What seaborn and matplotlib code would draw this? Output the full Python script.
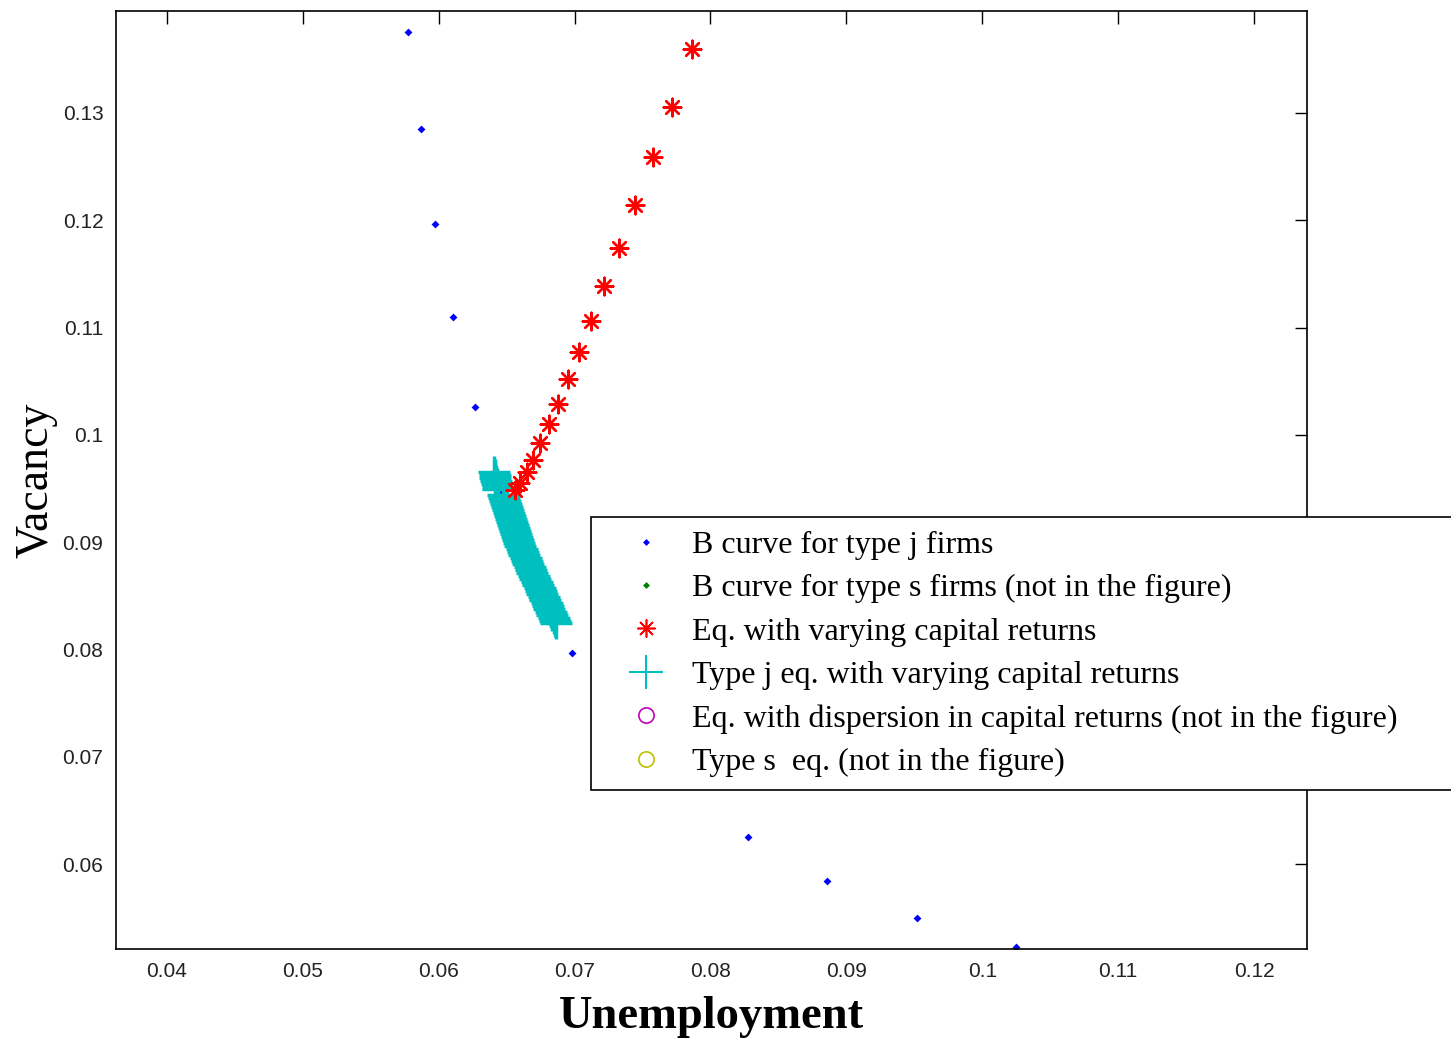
import numpy as np
import pandas as pd
import matplotlib.pyplot as plt
from matplotlib.lines import Line2D
import seaborn as sns

# B curve for type j firms (unemployment, vacancy)
b_u = [0.05773, 0.05869, 0.05972, 0.06105, 0.06266, 0.0645, 0.0669,
       0.0698, 0.0738, 0.0775, 0.08275, 0.08857, 0.09519, 0.10247]
b_v = [0.13755, 0.12851, 0.11966, 0.11099, 0.10260, 0.0947, 0.0870,
       0.07967, 0.0735, 0.0688, 0.06253, 0.05842, 0.05498, 0.05227]

# equilibria with varying capital returns
eq_u = [0.07861, 0.07714, 0.07574, 0.07446, 0.07324, 0.07216, 0.07122, 0.07032,
        0.06953, 0.06879, 0.06811, 0.06745, 0.06693, 0.06649, 0.06598, 0.06561]
eq_v = [0.13596, 0.13059, 0.12587, 0.12143, 0.11745, 0.11391, 0.11065, 0.10770,
        0.10521, 0.10291, 0.10099, 0.09925, 0.09767, 0.09654, 0.09552, 0.09487]

# type j equilibria with varying capital returns (dense band)
tj_u = [0.06406, 0.06412, 0.06417, 0.06423, 0.06428, 0.06434, 0.06438,
        0.06472, 0.06480, 0.06487, 0.06494, 0.06501, 0.06508, 0.06515, 0.06522,
        0.06529, 0.06537, 0.06545, 0.06553, 0.06560, 0.06568, 0.06576, 0.06584,
        0.06592, 0.06601, 0.06611, 0.06620, 0.06630, 0.06640, 0.06649, 0.06659,
        0.06669, 0.06678, 0.06689, 0.06700, 0.06710, 0.06721, 0.06731, 0.06742,
        0.06753, 0.06763, 0.06774, 0.06784, 0.06794, 0.06804, 0.06815, 0.06825,
        0.06835, 0.06846, 0.06856, 0.06862]
tj_v = [0.09654, 0.09626, 0.09598, 0.09570, 0.09542, 0.09514, 0.09496,
        0.09440, 0.09412, 0.09384, 0.09356, 0.09328, 0.09300, 0.09272, 0.09244,
        0.09216, 0.09188, 0.09160, 0.09132, 0.09104, 0.09076, 0.09049, 0.09021,
        0.08993, 0.08965, 0.08937, 0.08909, 0.08881, 0.08853, 0.08825, 0.08797,
        0.08769, 0.08741, 0.08713, 0.08685, 0.08657, 0.08629, 0.08601, 0.08573,
        0.08545, 0.08517, 0.08489, 0.08461, 0.08433, 0.08405, 0.08377, 0.08350,
        0.08322, 0.08294, 0.08266, 0.08247]

labels = ["B curve for type j firms",
          "B curve for type s firms (not in the figure)",
          "Eq. with varying capital returns",
          "Type j eq. with varying capital returns",
          "Eq. with dispersion in capital returns (not in the figure)",
          "Type s  eq. (not in the figure)"]

x_ticks = [0.04, 0.05, 0.06, 0.07, 0.08, 0.09, 0.1, 0.11, 0.12]
y_ticks = [0.06, 0.07, 0.08, 0.09, 0.1, 0.11, 0.12, 0.13]

cyan = (0, 0.75, 0.75)
star = (8, 2, 0)

sns.set_style("white")
plt.rcParams['font.family'] = ['Liberation Sans', 'DejaVu Sans']
plt.rcParams['text.color'] = 'black'
plt.rcParams['axes.labelcolor'] = 'black'

fig = plt.figure(figsize=(14.51, 10.39), dpi=100)
ax = fig.add_axes([0.0799, 0.0866, 0.8209, 0.9028])

bj = pd.DataFrame({"u": b_u, "v": b_v})
eq = pd.DataFrame({"u": eq_u, "v": eq_v})
tj = pd.DataFrame({"u": tj_u, "v": tj_v})

sns.scatterplot(data=bj, x="u", y="v", ax=ax, color="blue", marker="D", s=16,
                linewidth=0, zorder=2)
sns.scatterplot(data=tj, x="u", y="v", ax=ax, color=cyan, marker="+", s=560,
                linewidth=2.5, zorder=3)
sns.scatterplot(data=eq, x="u", y="v", ax=ax, color="red", marker=star, s=160,
                linewidth=1.7, edgecolor="red", zorder=4)

ax.set_xlim(0.03625, 0.1239)
ax.set_ylim(0.0521, 0.1395)
ax.set_xticks(x_ticks)
ax.set_xticklabels([f"{t:g}" for t in x_ticks])
ax.set_yticks(y_ticks)
ax.set_yticklabels([f"{t:g}" for t in y_ticks])
ax.tick_params(direction="in", length=9, width=1, labelsize=15, pad=9,
               top=True, right=True, colors="black", labelcolor="#222222")
for s in ax.spines.values():
    s.set_color("black")
    s.set_linewidth(1.2)

ax.set_xlabel("Unemployment", family="Liberation Serif", fontsize=33.5,
              fontweight="bold", labelpad=11, color="black")
ax.set_ylabel("Vacancy", family="Liberation Serif", fontsize=33, labelpad=4,
              color="black")

handles = [
    Line2D([], [], ls="none", marker="D", ms=3.5, color="blue", mew=0),
    Line2D([], [], ls="none", marker="D", ms=3.5, color=(0, 0.5, 0), mew=0),
    Line2D([], [], ls="none", marker=star, ms=13, color="red", mew=1.2),
    Line2D([], [], ls="none", marker="+", ms=24, color=cyan, mew=1.5),
    Line2D([], [], ls="none", marker="o", ms=11, mfc="none", mec=(0.75, 0, 0.75), mew=1.2),
    Line2D([], [], ls="none", marker="o", ms=11, mfc="none", mec=(0.75, 0.75, 0), mew=1.2),
]
leg = fig.legend(handles, labels, loc="upper left",
                 bbox_to_anchor=(591 / 1451, 1 - 787 / 1039, 900 / 1451, 270 / 1039),
                 mode="expand", prop={"family": "Liberation Serif", "size": 23},
                 frameon=True, fancybox=False, shadow=False, borderpad=0.42,
                 handlelength=2.6, handletextpad=0.15, labelspacing=0.44,
                 borderaxespad=0, numpoints=1)
for t in leg.get_texts():
    t.set_color("black")
leg.get_frame().set_edgecolor("black")
leg.get_frame().set_linewidth(1.2)
leg.get_frame().set_alpha(1)

fig.savefig("out.png", dpi=100)
